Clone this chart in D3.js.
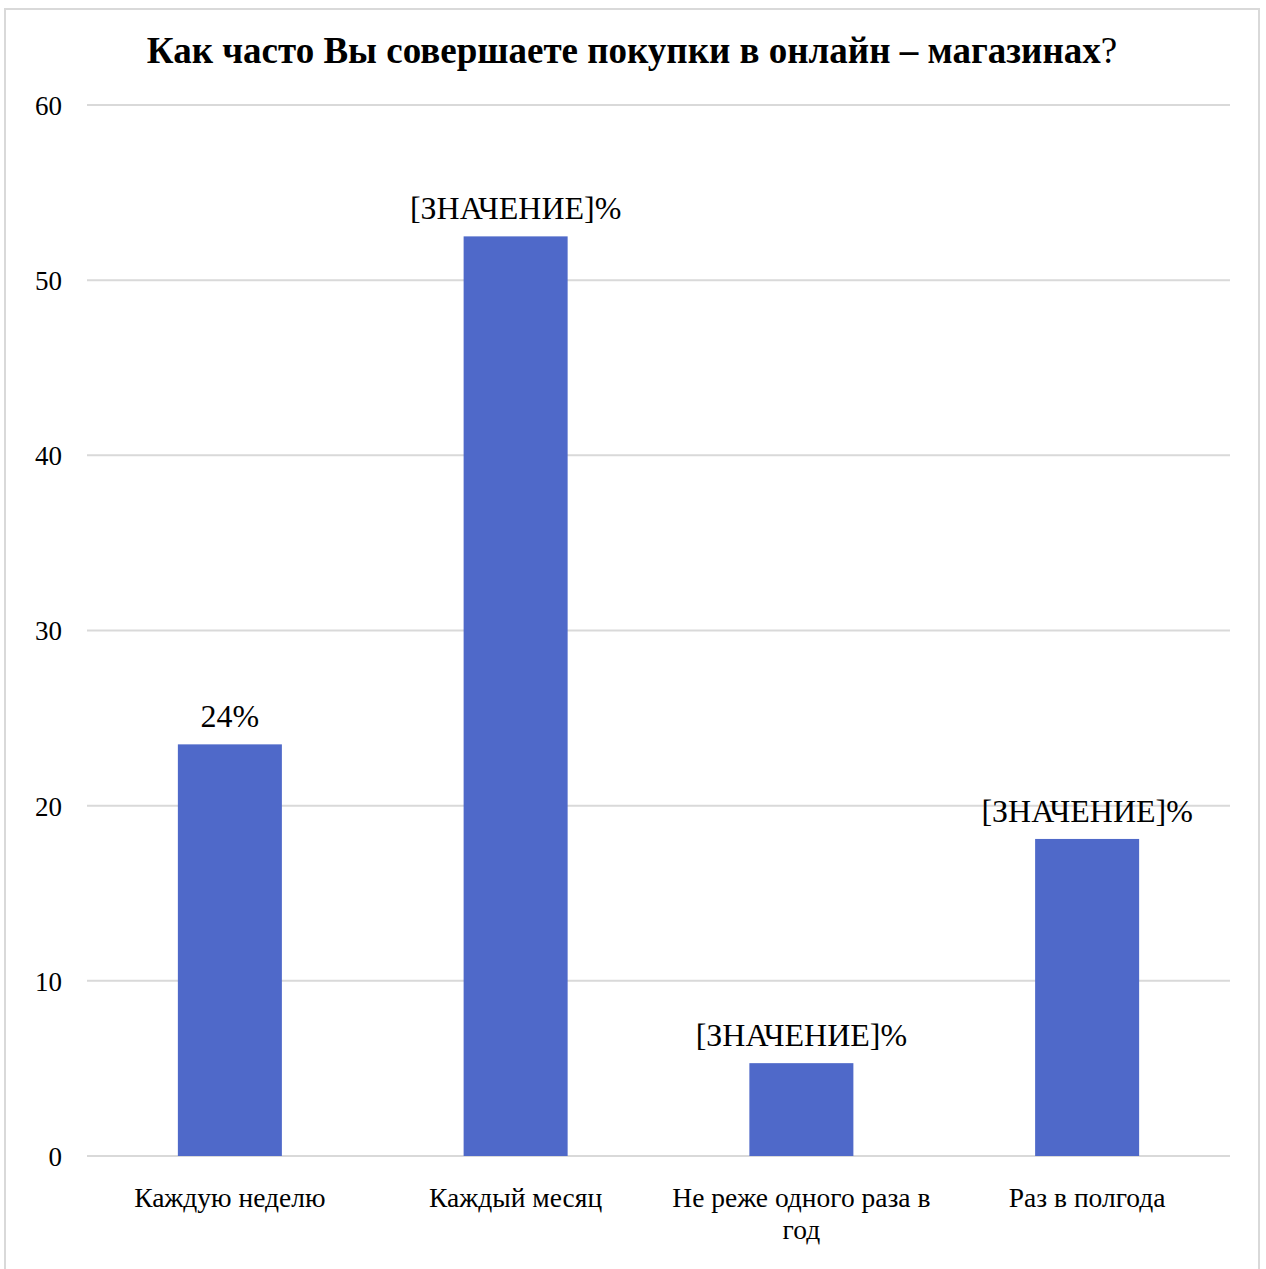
<!DOCTYPE html>
<html>
<head>
<meta charset="utf-8">
<script src="https://cdn.jsdelivr.net/npm/d3@7"></script>
<style>
  html, body { margin: 0; padding: 0; background: #fff; }
  svg { display: block; }
  text { font-family: "Liberation Serif", "Times New Roman", serif; fill: #000; }
</style>
</head>
<body>
<svg id="chart" width="1266" height="1269"></svg>
<script>
// Survey: how often people buy in online shops (percent of respondents)
const categories = ["Каждую неделю", "Каждый месяц", "Не реже одного раза в год", "Раз в полгода"];
const values = [23.5, 52.5, 5.3, 18.1];
const labelTexts = [null, "[ЗНАЧЕНИЕ]%", "[ЗНАЧЕНИЕ]%", "[ЗНАЧЕНИЕ]%"];
const yTicks = [0, 10, 20, 30, 40, 50, 60];
const titleMain = "Как часто Вы совершаете покупки в онлайн – магазинах";
const titleEnd = "?";

const svg = d3.select("#chart");

// outer chart frame
svg.append("rect")
  .attr("x", 5).attr("y", 9)
  .attr("width", 1254).attr("height", 1275)
  .attr("fill", "#fff")
  .attr("stroke", "#d9d9d9").attr("stroke-width", 2);

const plot = { left: 87, right: 1230, top: 105, bottom: 1156 };

const x = d3.scaleBand()
  .domain(categories)
  .range([plot.left, plot.right])
  .paddingInner(0).paddingOuter(0);

const y = d3.scaleLinear()
  .domain([0, 60])
  .range([plot.bottom, plot.top]);

// horizontal gridlines
svg.append("g")
  .selectAll("line")
  .data(yTicks)
  .join("line")
  .attr("x1", plot.left).attr("x2", plot.right)
  .attr("y1", d => y(d)).attr("y2", d => y(d))
  .attr("stroke", "#d9d9d9").attr("stroke-width", 2);

// y axis tick labels
const yAxis = d3.axisLeft(y).tickValues(yTicks).tickSize(0).tickPadding(0);
const yg = svg.append("g")
  .attr("transform", `translate(62,0)`)
  .call(yAxis);
yg.select(".domain").remove();
yg.selectAll("text")
  .attr("font-size", 27)
  .attr("fill", "#000")
  .attr("dy", "0.35em");

// bars
const barW = x.bandwidth() * 0.364;
svg.append("g")
  .selectAll("rect")
  .data(values)
  .join("rect")
  .attr("x", (d, i) => x(categories[i]) + x.bandwidth() / 2 - barW / 2)
  .attr("width", barW)
  .attr("y", d => y(d))
  .attr("height", d => y(0) - y(d))
  .attr("fill", "#4f69c9");

// value labels above bars
const fmt = d3.format(".0f");
svg.append("g")
  .selectAll("text")
  .data(values)
  .join("text")
  .attr("x", (d, i) => x(categories[i]) + x.bandwidth() / 2)
  .attr("y", d => y(d) - 17)
  .attr("text-anchor", "middle")
  .attr("font-size", 32)
  .text((d, i) => labelTexts[i] || fmt(d) + "%");

// category labels, wrapped to the band width
const maxLabelW = 275;
const catG = svg.append("g");
categories.forEach((c, i) => {
  const cx = x(c) + x.bandwidth() / 2;
  const t = catG.append("text")
    .attr("x", cx)
    .attr("y", 1207)
    .attr("text-anchor", "middle")
    .attr("font-size", 27.5);
  const words = c.split(" ");
  let line = [];
  let tspan = t.append("tspan").attr("x", cx).attr("dy", 0);
  words.forEach(w => {
    line.push(w);
    tspan.text(line.join(" "));
    if (tspan.node().getComputedTextLength() > maxLabelW && line.length > 1) {
      line.pop();
      tspan.text(line.join(" "));
      line = [w];
      tspan = t.append("tspan")
        .attr("x", cx)
        .attr("dy", 32)
        .text(w);
    }
  });
});

// title
const title = svg.append("text")
  .attr("x", 632).attr("y", 63)
  .attr("text-anchor", "middle")
  .attr("font-size", 37);
title.append("tspan").attr("font-weight", "bold").text(titleMain);
title.append("tspan").attr("font-weight", "normal").text(titleEnd);
</script>
</body>
</html>
